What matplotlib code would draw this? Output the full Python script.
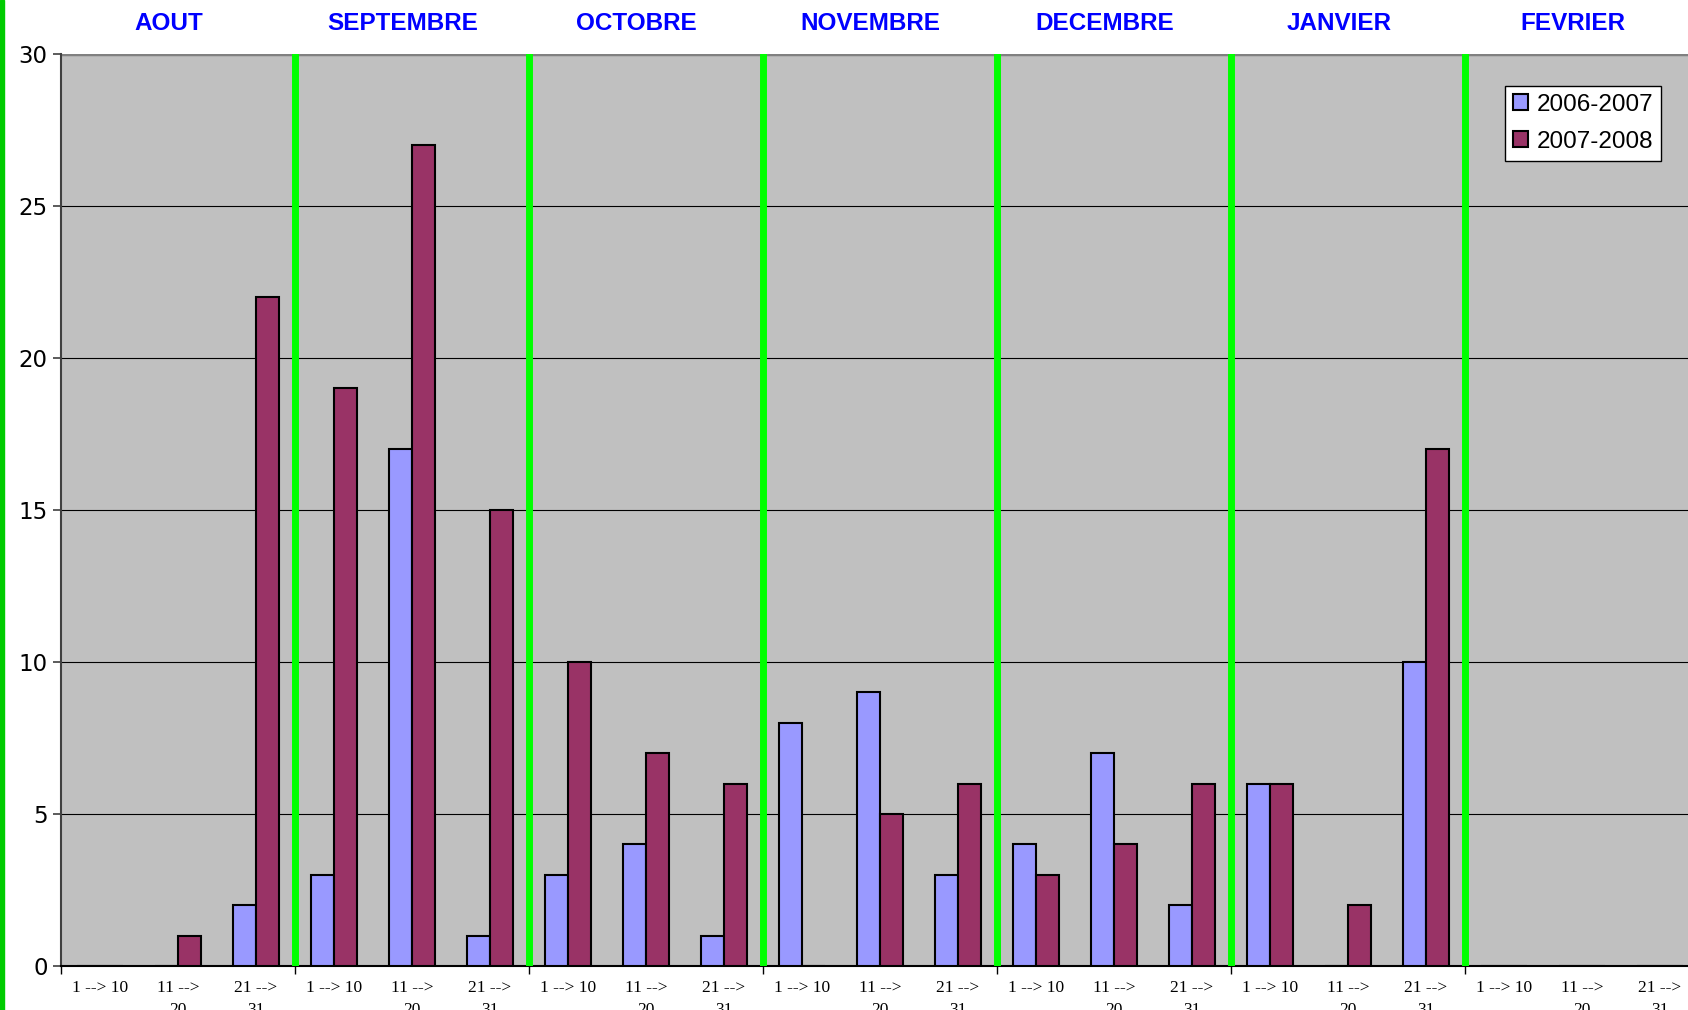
# decade counts per month, two seasons
import numpy as np
from matplotlib import pyplot as plt
from matplotlib.patches import Rectangle

months = ["AOUT", "SEPTEMBRE", "OCTOBRE", "NOVEMBRE", "DECEMBRE", "JANVIER", "FEVRIER"]
decades = ["1 --> 10", "11 -->\n20", "21 -->\n31"]
s0607 = [0, 0, 2, 3, 17, 1, 3, 4, 1, 8, 9, 3, 4, 7, 2, 6, 0, 10, 0, 0, 0]
s0708 = [0, 1, 22, 19, 27, 15, 10, 7, 6, 0, 5, 6, 3, 4, 6, 6, 2, 17, 0, 0, 0]

n = len(s0607)
x = np.arange(n) + 0.5
w = 0.29

fig = plt.figure(figsize=(16.88, 10.10), dpi=100)
# axes runs a bit past the right edge, like the original export
ax = fig.add_axes([61/1688, 1 - 966/1010, 1638/1688, 912/1010])
ax.set_facecolor("#C0C0C0")

ax.bar(x - w/2, s0607, width=w, color="#9999FF", edgecolor="black", lw=1.5, label="2006-2007", zorder=3)
ax.bar(x + w/2, s0708, width=w, color="#993366", edgecolor="black", lw=1.5, label="2007-2008", zorder=3)

# month separators
for m in range(1, len(months)):
    ax.axvline(3*m, ymin=0, ymax=1, color="#00FF00", lw=5, zorder=4)

ax.set_xlim(0, n)
ax.set_ylim(0, 30)
ax.set_yticks(range(0, 31, 5))
ax.yaxis.grid(True, color="black", lw=0.8, zorder=1)
ax.axhline(30, color="#808080", lw=2.5, zorder=2)
ax.tick_params(axis="y", labelsize=16.5, length=6, width=1.2, color="#404040")

ax.set_xticks(range(0, n + 1, 3))
ax.set_xticklabels([])
ax.tick_params(axis="x", length=6, width=1, direction="out")
for i in range(n):
    ax.text(x[i], -0.45, decades[i % 3], ha="center", va="top", fontsize=12.5,
            family="Liberation Serif", linespacing=1.5, clip_on=False)

for i, mo in enumerate(months):
    ax.text(3*i + 1.5 - 0.12, 31.0, mo, ha="center", va="center", fontsize=17.5,
            fontweight="bold", color="#0000FF", family="Liberation Sans")

for s in ["top", "right"]:
    ax.spines[s].set_visible(False)
ax.spines["left"].set_color("#404040")
ax.spines["left"].set_linewidth(1.5)
ax.spines["bottom"].set_color("black")
ax.spines["bottom"].set_linewidth(1.5)

leg = ax.legend(loc="upper right", bbox_to_anchor=(0.977, 0.965), borderaxespad=0,
                fancybox=False, framealpha=1, edgecolor="black", handlelength=0.65,
                handleheight=0.65, handletextpad=0.35, borderpad=0.32, labelspacing=0.62,
                prop={"family": "Liberation Sans", "size": 17.5})
leg.get_frame().set_linewidth(1)

# green border at far left of the picture
fig.add_artist(Rectangle((0, 0), 4/1688, 1, transform=fig.transFigure, color="#00CC00"))

plt.savefig("out.png", dpi=100)
